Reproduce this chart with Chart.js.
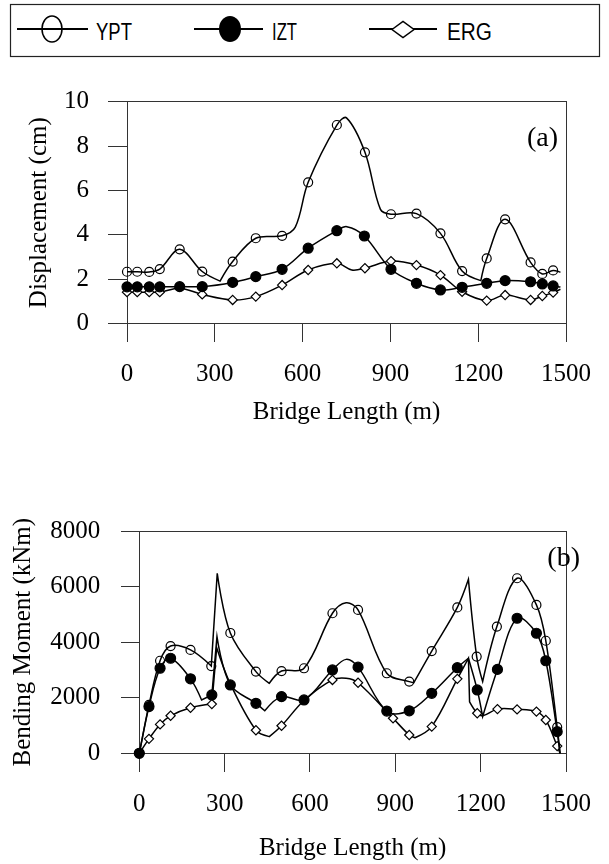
<!DOCTYPE html>
<html>
<head>
<meta charset="utf-8">
<script src="https://cdn.jsdelivr.net/npm/chart.js@4"></script>
<style>
  body { margin: 0; background: #fff; width: 609px; height: 864px; position: relative; overflow: hidden; }
  #legend { position: absolute; left: 0; top: 0; }
  #wrap-a { position: absolute; left: 0; top: 60px; }
  #wrap-b { position: absolute; left: 0; top: 440px; }
  canvas { display: block; }
</style>
</head>
<body>
<svg id="legend" width="609" height="60" font-family="'Liberation Sans', Arial, sans-serif">
  <rect x="10.5" y="4.5" width="589" height="52" fill="none" stroke="#222" stroke-width="1.2"/>
  <line x1="17" y1="29" x2="88" y2="29" stroke="#000" stroke-width="2"/>
  <ellipse cx="52" cy="29" rx="10" ry="13" fill="none" stroke="#000" stroke-width="1.5"/>
  <text x="96" y="40" font-size="23" textLength="36" lengthAdjust="spacingAndGlyphs">YPT</text>
  <line x1="194" y1="29" x2="263" y2="29" stroke="#000" stroke-width="2"/>
  <ellipse cx="230" cy="29" rx="11" ry="13" fill="#000"/>
  <text x="272" y="40" font-size="23" textLength="25" lengthAdjust="spacingAndGlyphs">IZT</text>
  <line x1="369" y1="29" x2="437" y2="29" stroke="#000" stroke-width="2"/>
  <polygon points="392,29.5 403,21.5 414,29.5 403,37.5" fill="#fff" stroke="#000" stroke-width="1.5"/>
  <text x="447" y="40" font-size="23" textLength="45" lengthAdjust="spacingAndGlyphs">ERG</text>
</svg>
<div id="wrap-a"><canvas id="chart-a" width="609" height="380"></canvas></div>
<div id="wrap-b"><canvas id="chart-b" width="609" height="424"></canvas></div>
<script>
// ---- (a) Displacement ----
const xTicks = [0, 300, 600, 900, 1200, 1500];

const yptA_x = [0, 35, 76, 112, 180, 257, 318, 361, 440, 530, 575, 619, 717, 750, 813, 866, 902, 989, 1071, 1145, 1209, 1229, 1292, 1379, 1419, 1456, 1481];
const yptA_y = [2.34, 2.34, 2.33, 2.46, 3.35, 2.35, 1.92, 2.80, 3.85, 3.96, 4.35, 6.37, 8.95, 9.27, 7.72, 5.15, 4.93, 4.96, 4.07, 2.37, 1.94, 2.94, 4.70, 2.76, 2.24, 2.40, 2.32];
const yptA_noMark = [6, 10, 13, 15, 20, 26];
const yptA_kinks = [6, 20];

const iztA_x = [0, 35, 76, 112, 180, 257, 361, 440, 530, 619, 717, 751, 811, 902, 989, 1071, 1145, 1229, 1292, 1379, 1419, 1456, 1481];
const iztA_y = [1.66, 1.66, 1.66, 1.66, 1.67, 1.67, 1.86, 2.12, 2.45, 3.40, 4.19, 4.37, 3.95, 2.45, 1.82, 1.52, 1.64, 1.82, 1.94, 1.89, 1.79, 1.70, 1.65];
const iztA_noMark = [11, 22];
const iztA_kinks = [];

const ergA_x = [0, 35, 76, 112, 180, 257, 361, 440, 530, 619, 717, 768, 813, 902, 989, 1071, 1145, 1229, 1292, 1379, 1419, 1456, 1481];
const ergA_y = [1.42, 1.42, 1.42, 1.42, 1.60, 1.32, 1.07, 1.22, 1.74, 2.42, 2.72, 2.42, 2.50, 2.82, 2.64, 2.19, 1.44, 1.04, 1.29, 1.07, 1.25, 1.40, 1.55];
const ergA_noMark = [4, 11, 22];
const ergA_kinks = [];

// ---- (b) Bending moment ----
const yptB_x = [0, 34, 73, 110, 180, 253, 274, 320, 410, 457, 500, 579, 679, 727, 769, 870, 949, 965, 1028, 1118, 1157, 1186, 1207, 1257, 1328, 1396, 1429, 1469, 1479];
const yptB_y = [0, 1740, 3330, 3860, 3720, 3140, 6480, 4330, 2940, 2520, 2960, 3060, 5040, 5420, 5160, 2880, 2580, 2540, 3680, 5250, 6260, 3480, 2580, 4560, 6300, 5340, 4050, 940, 0];
const yptB_noMark = [6, 9, 13, 17, 20, 22, 28];
const yptB_kinks = [5, 6, 9, 17, 20, 22];

const iztB_x = [0, 34, 73, 110, 180, 219, 255, 273, 320, 410, 441, 500, 579, 679, 727, 769, 870, 949, 1028, 1118, 1157, 1188, 1207, 1259, 1328, 1396, 1429, 1469, 1479];
const iztB_y = [0, 1680, 3060, 3420, 2680, 1920, 2100, 4200, 2460, 1800, 1530, 2040, 1920, 3000, 3380, 3100, 1520, 1530, 2160, 3080, 3420, 2280, 1320, 3020, 4860, 4320, 3330, 780, 0];
const iztB_noMark = [5, 7, 10, 14, 20, 22, 28];
const iztB_kinks = [5, 6, 7, 10, 20, 22];

const ergB_x = [0, 34, 73, 110, 180, 255, 272, 320, 410, 457, 500, 579, 679, 727, 769, 892, 949, 969, 1028, 1118, 1157, 1161, 1188, 1207, 1259, 1328, 1396, 1429, 1469, 1479];
const ergB_y = [0, 520, 1040, 1350, 1640, 1770, 3800, 2500, 830, 600, 990, 1900, 2640, 2700, 2540, 1260, 660, 560, 960, 2680, 3420, 1850, 1440, 1350, 1590, 1580, 1500, 1200, 260, 0];
const ergB_noMark = [6, 7, 9, 11, 13, 17, 20, 21, 23, 29];
const ergB_kinks = [5, 6, 9, 17, 20, 21];

const serif = "'Liberation Serif', 'Times New Roman', serif";
const axisGrey = "#333";

// sharp corners at spike / notch points: collapse bezier handles there
const kinkPlugin = {
    id: "kinks",
    beforeDatasetDraw(chart, args) {
        const ds = chart.data.datasets[args.index];
        if (!ds.kinks || !ds.kinks.length) return;
        const meta = args.meta;
        meta.dataset.updateControlPoints(chart.chartArea, "x");
        ds.kinks.forEach(i => {
            const p = meta.data[i];
            p.cp1x = p.x; p.cp1y = p.y;
            p.cp2x = p.x; p.cp2y = p.y;
        });
    }
};

// plot box top/right edges, outside tick marks, panel tag
// (drawn before anything else so no clip region can hide them)
function framePlugin(p) {
    const al = v => Math.round(v - 0.5);
    return {
        id: "frame",
        beforeDraw(chart) {
            const { ctx, chartArea: a } = chart;
            const sx = chart.scales.x, sy = chart.scales.y;
            const left = al(a.left), right = al(a.right);
            const top = al(a.top), bottom = al(a.bottom);
            ctx.save();
            ctx.fillStyle = axisGrey;
            ctx.fillRect(left, top, right - left + 1, 1);
            ctx.fillRect(right, top, 1, bottom - top + 1);
            for (const v of xTicks) {
                ctx.fillRect(al(sx.getPixelForValue(v)), bottom + 1, 1, 18);
            }
            for (let v = 0; v <= p.yMax; v += p.yStep) {
                ctx.fillRect(left - p.yTick, al(sy.getPixelForValue(v)), p.yTick, 1);
            }
            ctx.fillStyle = "#000";
            ctx.font = "28px " + serif;
            ctx.textAlign = "right";
            ctx.textBaseline = "alphabetic";
            ctx.fillText(p.tag, p.tagX, p.tagY);
            ctx.restore();
        }
    };
}

function series(label, xs, ys, noMark, kinks, style) {
    return {
        label,
        data: xs.map((x, i) => ({ x, y: ys[i] })),
        kinks,
        borderColor: "#000",
        borderWidth: 1.5,
        tension: 0.35,
        fill: false,
        clip: false,
        pointStyle: style.shape,
        pointBackgroundColor: style.fill,
        pointBorderColor: "#000",
        pointBorderWidth: 1.2,
        pointRadius: ctx => noMark.includes(ctx.dataIndex) ? 0 : style.r,
        order: style.order
    };
}

const YPT = { shape: "circle", fill: "rgba(0,0,0,0)", r: 4.5, order: 1 };
const IZT = { shape: "circle", fill: "#000", r: 5, order: 0 };
const ERG = { shape: "rectRot", fill: "#fff", r: 4.6, order: 2 };

function makeChart(id, datasets, p) {
    return new Chart(document.getElementById(id), {
        type: "line",
        data: { datasets },
        options: {
            responsive: false,
            animation: false,
            events: [],
            layout: { padding: { top: p.top, right: p.right, left: 0, bottom: 0 } },
            plugins: {
                legend: { display: false },
                tooltip: { enabled: false }
            },
            scales: {
                x: {
                    type: "linear",
                    min: 0, max: 1500,
                    afterFit: s => { s.height = p.xHeight; },
                    afterBuildTicks: s => { s.ticks = xTicks.map(v => ({ value: v })); },
                    ticks: {
                        color: "#000", font: { family: serif, size: 25 }, padding: 18,
                        maxRotation: 0, autoSkip: false, callback: v => String(v)
                    },
                    grid: { drawOnChartArea: false, tickLength: 18, color: "rgba(0,0,0,0)" },
                    border: { color: axisGrey, width: 1 },
                    title: {
                        display: true, text: "Bridge Length (m)", color: "#000",
                        font: { family: serif, size: 25 }, padding: { top: 0, bottom: p.xTitlePad }
                    }
                },
                y: {
                    min: 0, max: p.yMax,
                    afterFit: s => { s.width = p.yWidth; },
                    ticks: {
                        stepSize: p.yStep, color: "#000", font: { family: serif, size: 25 },
                        padding: p.yPad, callback: v => String(v)
                    },
                    grid: { drawOnChartArea: false, tickLength: p.yTick, color: "rgba(0,0,0,0)" },
                    border: { color: axisGrey, width: 1 },
                    title: {
                        display: true, text: p.yTitle, color: "#000",
                        font: { family: serif, size: 25 }, padding: { top: p.yTitlePad, bottom: 0 }
                    }
                }
            }
        },
        plugins: [kinkPlugin, framePlugin(p)]
    });
}

makeChart("chart-a", [
    series("YPT", yptA_x, yptA_y, yptA_noMark, yptA_kinks, YPT),
    series("IZT", iztA_x, iztA_y, iztA_noMark, iztA_kinks, IZT),
    series("ERG", ergA_x, ergA_y, ergA_noMark, ergA_kinks, ERG)
], {
    top: 41.7, right: 40, xHeight: 116.3, yWidth: 127, yMax: 10, yStep: 2,
    yTick: 19, yPad: 19, yTitle: "Displacement (cm)", yTitlePad: 24, xTitlePad: 13,
    tag: "(a)", tagX: 558, tagY: 86
});

makeChart("chart-b", [
    series("YPT", yptB_x, yptB_y, yptB_noMark, yptB_kinks, YPT),
    series("IZT", iztB_x, iztB_y, iztB_noMark, iztB_kinks, IZT),
    series("ERG", ergB_x, ergB_y, ergB_noMark, ergB_kinks, ERG)
], {
    top: 91, right: 25, xHeight: 110.7, yWidth: 139.3, yMax: 8000, yStep: 2000,
    yTick: 18, yPad: 21, yTitle: "Bending Moment (kNm)", yTitlePad: 8, xTitlePad: 1,
    tag: "(b)", tagX: 580, tagY: 126
});
</script>
</body>
</html>
